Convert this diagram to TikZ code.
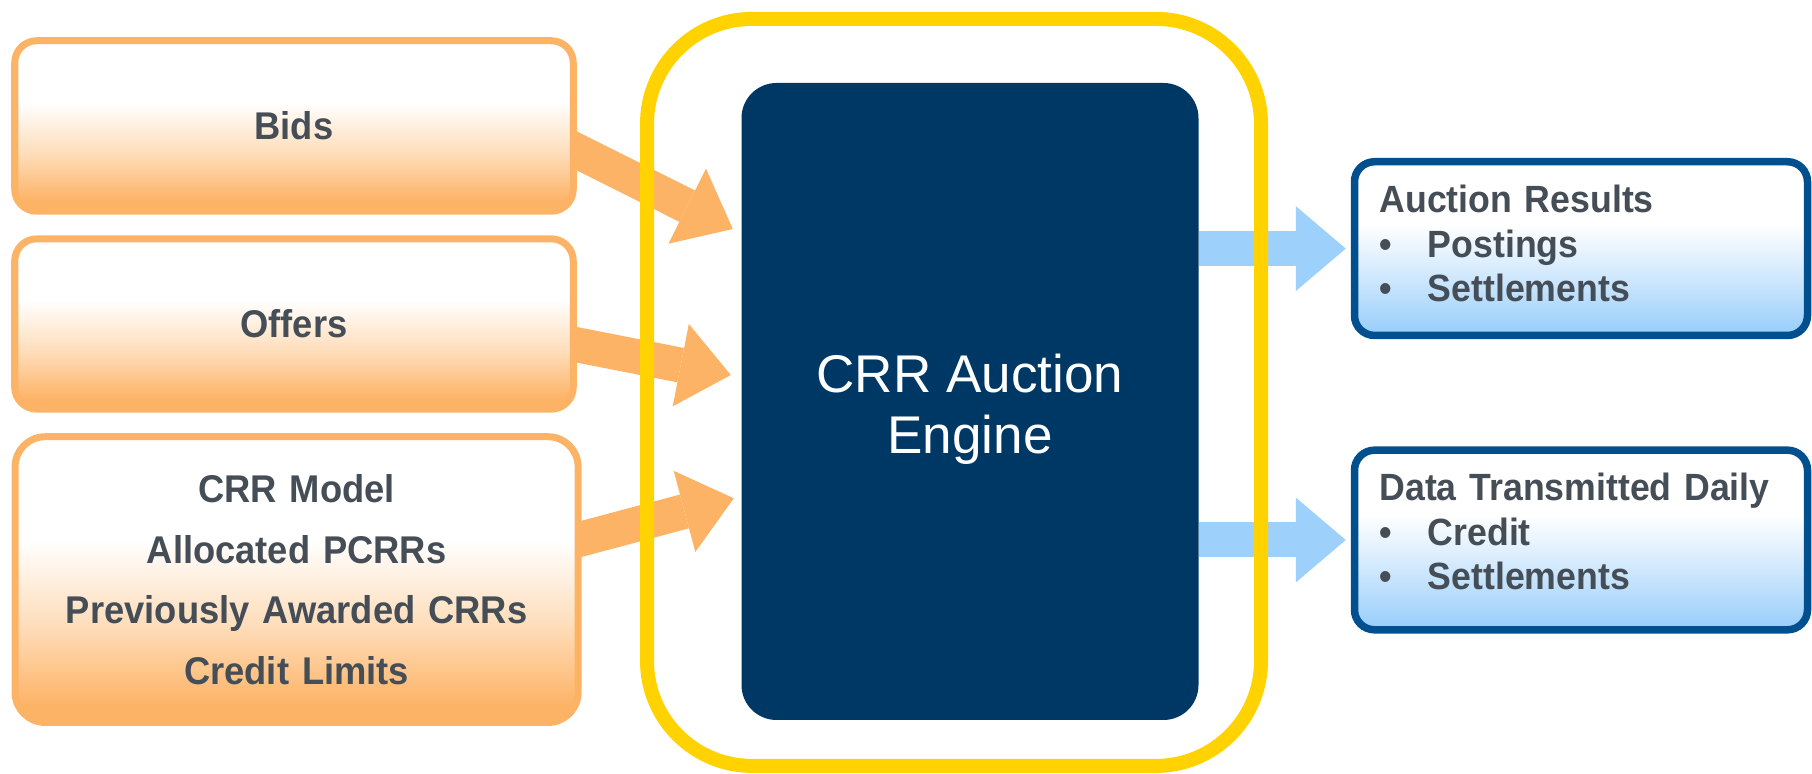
\documentclass[tikz,border=0pt]{standalone}
\usepackage{fontspec}
\setmainfont{Liberation Sans}[BoldFeatures={FakeStretch=0.94}]
\usepackage{tikz}
\usetikzlibrary{arrows.meta, positioning, calc}
\definecolor{myorange}{RGB}{253,179,102}
\definecolor{hdrorange}{RGB}{254,221,186}
\definecolor{mynavy}{RGB}{0,56,101}
\definecolor{myyellow}{RGB}{255,210,0}
\definecolor{myblue}{RGB}{0,80,143}
\definecolor{lightblue}{RGB}{157,208,251}
\definecolor{hdrblue}{RGB}{208,232,253}
\definecolor{mygray}{RGB}{69,78,86}
\pgfdeclareverticalshading{orangefade}{100bp}{color(0bp)=(myorange); color(28bp)=(myorange); color(42bp)=(hdrorange); color(57bp)=(white); color(100bp)=(white)}
\pgfdeclareverticalshading{bluefade}{100bp}{color(0bp)=(lightblue); color(27bp)=(lightblue); color(42bp)=(hdrblue); color(57bp)=(white); color(100bp)=(white)}
\pgfdeclarelayer{background}
\pgfsetlayers{background,main}
\newcommand{\rowbullet}[1]{\makebox[0.483cm][l]{\textbullet}#1}
\tikzset{
  inbox/.style={rectangle, draw=myorange, shading=orangefade,
    minimum width=5.585cm, text width=5.3cm, align=center,
    rounded corners=0.22cm, line width=0.07cm, text=mygray,
    font=\bfseries\fontsize{11pt}{17.3pt}\selectfont},
  outbox/.style={rectangle, draw=myblue, shading=bluefade,
    minimum width=4.53cm, text width=4.03cm, inner xsep=0.25cm, align=left,
    text depth=28.25pt, rounded corners=0.2cm, line width=0.075cm, text=mygray,
    font=\bfseries\fontsize{10.8pt}{12.65pt}\selectfont},
  engine/.style={rectangle, fill=mynavy, minimum width=4.57cm,
    minimum height=6.37cm, rounded corners=0.35cm, align=center,
    text=white, font=\fontsize{15.1pt}{17.4pt}\selectfont},
  yellowframe/.style={rectangle, draw=myyellow, minimum width=6.14cm,
    minimum height=7.47cm, rounded corners=1.05cm, line width=0.14cm},
  orangearrow/.style={myorange, line width=0.35cm,
    -{Triangle[width=0.84cm, length=0.51cm, line width=0pt]}},
  bluearrow/.style={lightblue, line width=0.35cm,
    -{Triangle[width=0.85cm, length=0.50cm, line width=0pt]}}
}
\begin{document}
\begin{tikzpicture}
  \useasboundingbox (0,0) rectangle (18.12,7.74);
  % inputs
  \node[inbox, minimum height=1.705cm] (bids) at (2.94, 6.48) {Bids};
  \node[inbox, minimum height=1.703cm] (offers) at (2.94, 4.50) {Offers};
  \node[inbox, minimum width=5.63cm, minimum height=2.857cm, rounded corners=0.3cm] (model) at (2.966, 1.944)
    {CRR Model\\Allocated PCRRs\\Previously Awarded CRRs\\Credit Limits};

  \node[engine] (engine) at (9.70, 3.725) {\rule{0pt}{15.3pt}CRR Auction\\Engine};

  % outputs
  \node[outbox, minimum height=1.737cm] (results) at (15.81, 5.254)
    {Auction Results\\\rowbullet{Postings}\\\rowbullet{Settlements}};
  \node[outbox, minimum height=1.796cm, text depth=30.25pt] (daily) at (15.81, 2.34)
    {\mbox{Data Transmitted Daily}\\\rowbullet{Credit}\\\rowbullet{Settlements}};

  \begin{pgfonlayer}{background}
    \draw[orangearrow] ($(bids.east)+(-0.27,-0.114)$) -- ($(engine.west)+(-0.08,1.725)$);
    \draw[orangearrow] ($(offers.east)+(-0.295,-0.15)$) -- ($(engine.west)+(-0.1,0.265)$);
    \draw[orangearrow] ($(model.east)+(-0.29,0.33)$) -- ($(engine.west)+(-0.07,-0.968)$);
  \end{pgfonlayer}
  \draw[bluearrow] (engine.east |- results.west) -- ($(results.west)+(-0.05,0)$);
  \draw[bluearrow] (engine.east |- daily.west) -- ($(daily.west)+(-0.05,0)$);

  \node[yellowframe] (ring) at (9.54, 3.816) {};
\end{tikzpicture}
\end{document}
